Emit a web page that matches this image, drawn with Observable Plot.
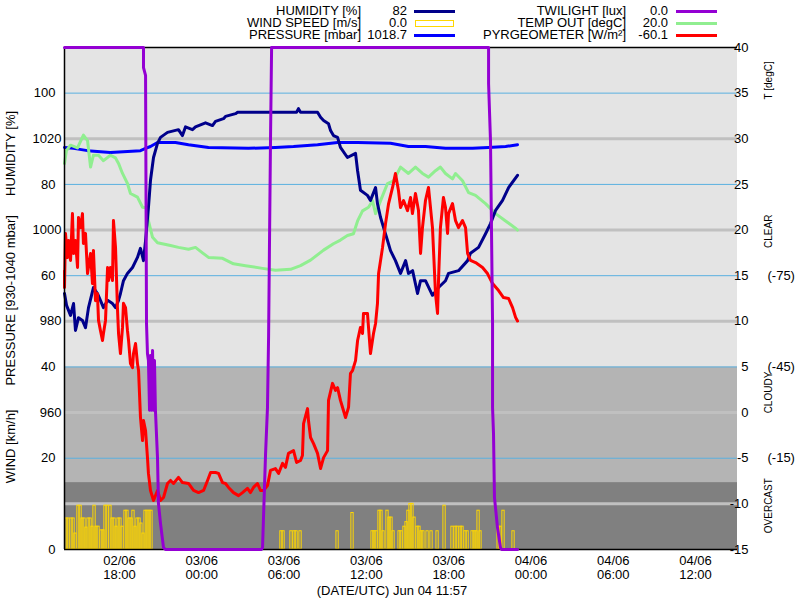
<!DOCTYPE html>
<html><head><meta charset="utf-8">
<script src="https://cdn.jsdelivr.net/npm/d3@7"></script>
<script src="https://cdn.jsdelivr.net/npm/@observablehq/plot@0.6"></script>
<style>
body{margin:0;background:#fff;font-family:'Liberation Sans',Arial,sans-serif;}
#legend{position:relative;width:800px;height:45px;font-size:13px;color:#000;}
#legend span{position:absolute;line-height:12px;white-space:nowrap;}
#legend div{position:absolute;box-sizing:border-box;}
</style></head><body>
<div id="legend"></div>
<div id="chart"></div>
<script>
// ---- time: hours after 02/06 00:00 UTC ----
const xStart = 13.99, xEnd = 63.06;
const xTicks = [18, 24, 30, 36, 42, 48, 54, 60];

// ---- series: [hour, value] ----
const humidity = [[13.99,56.1],[14.14,53.5],[14.43,51.3],[14.65,53.9],[14.79,48.0],[15.01,50.8],[15.30,50.2],[15.52,48.6],[15.74,53.0],[16.10,57.4],[16.39,56.1],[16.61,54.6],[16.83,53.0],[17.13,54.6],[17.49,53.9],[17.71,53.0],[17.93,54.6],[18.07,56.1],[18.29,58.9],[18.58,60.5],[18.95,61.8],[19.31,64.0],[19.53,66.0],[19.75,63.3],[19.90,67.7],[20.11,74.9],[20.26,80.9],[20.48,85.9],[20.77,89.0],[20.99,90.3],[21.50,91.4],[22.30,92.0],[22.59,90.7],[22.81,92.6],[23.32,92.0],[23.54,92.6],[24.27,93.5],[24.78,92.9],[25.00,93.8],[25.58,94.4],[25.73,94.9],[26.46,95.5],[26.61,95.8],[30.47,95.8],[30.91,95.8],[31.05,96.6],[31.20,95.8],[32.44,95.8],[32.66,94.7],[32.88,94.0],[33.24,93.3],[33.39,91.8],[33.60,90.7],[33.90,90.3],[34.11,88.1],[34.62,85.9],[35.21,86.8],[35.36,83.0],[35.57,78.7],[36.08,77.6],[36.30,76.5],[36.67,79.3],[36.81,75.8],[37.03,72.8],[37.25,70.6],[37.54,67.7],[37.76,65.5],[38.12,63.3],[38.49,60.5],[38.86,63.3],[39.07,60.5],[39.37,61.1],[39.73,56.1],[39.95,58.9],[40.31,58.9],[40.82,55.7],[41.26,57.4],[41.77,58.9],[41.99,60.5],[42.72,61.1],[43.38,63.3],[43.59,64.9],[44.18,66.2],[44.69,69.2],[45.05,71.4],[45.42,74.3],[45.93,76.5],[46.37,79.3],[47.02,82.0]];

const pressure = [[13.99,1018.1],[14.65,1017.9],[15.67,1017.4],[17.34,1017.0],[19.53,1017.4],[19.90,1017.9],[20.26,1018.3],[20.77,1019.2],[22.08,1019.2],[23.03,1018.7],[24.49,1018.1],[27.40,1017.9],[29.37,1018.1],[30.69,1018.3],[32.44,1018.7],[33.90,1019.2],[35.36,1019.2],[37.76,1019.0],[39.07,1018.3],[40.31,1018.3],[41.77,1017.9],[43.74,1017.9],[44.91,1018.1],[46.15,1018.3],[47.02,1018.7]];

const tempOut = [[13.99,27.3],[14.13,28.7],[14.43,29.3],[14.94,29.0],[15.37,30.4],[15.67,29.8],[15.89,26.9],[16.10,28.2],[16.47,28.2],[16.83,27.6],[17.34,28.2],[17.71,27.9],[17.93,27.3],[18.22,26.2],[18.58,25.1],[18.80,24.0],[19.31,23.6],[19.68,22.5],[20.04,22.4],[20.11,21.0],[20.41,19.2],[20.77,18.6],[21.72,18.3],[22.30,18.1],[23.03,17.9],[23.54,18.1],[24.05,17.5],[24.49,17.0],[25.51,16.9],[26.31,16.3],[27.19,16.1],[28.43,15.8],[29.37,15.6],[30.47,15.7],[31.20,16.1],[31.93,16.7],[32.88,17.8],[33.60,18.5],[34.11,18.9],[34.62,19.4],[35.06,19.6],[35.36,21.0],[35.72,22.1],[36.16,22.5],[36.45,23.2],[36.67,21.8],[37.03,23.2],[37.54,25.1],[37.98,25.4],[38.49,26.9],[39.07,26.2],[39.58,26.9],[40.09,26.2],[40.53,25.8],[41.04,26.5],[41.40,26.9],[41.77,26.2],[42.28,25.6],[42.50,26.2],[43.01,25.4],[43.45,24.1],[43.96,23.8],[44.69,22.9],[45.42,21.8],[46.15,21.0],[46.87,20.2],[47.02,20.0]];

const pyrgeometer = [[13.99,-76.7],[13.99,-71.1],[14.06,-88.9],[14.21,-81.0],[14.28,-86.6],[14.43,-80.0],[14.57,-95.4],[14.65,-82.3],[14.79,-86.6],[14.94,-77.7],[15.01,-94.1],[15.16,-90.8],[15.30,-95.4],[15.37,-85.6],[15.52,-88.9],[15.67,-75.7],[15.89,-82.3],[16.03,-72.4],[16.10,-83.3],[16.25,-66.8],[16.39,-69.1],[16.47,-60.3],[16.61,-57.0],[16.76,-53.7],[16.83,-56.0],[16.98,-60.3],[17.13,-77.7],[17.20,-73.4],[17.34,-77.7],[17.49,-73.4],[17.56,-93.1],[17.71,-84.3],[17.85,-64.5],[17.93,-56.0],[18.07,-49.4],[18.22,-58.0],[18.29,-65.9],[18.44,-64.5],[18.58,-57.0],[18.66,-53.7],[18.80,-46.1],[18.95,-44.8],[19.02,-49.4],[19.17,-52.7],[19.31,-46.1],[19.39,-43.8],[19.53,-28.4],[19.68,-20.8],[19.75,-27.4],[19.90,-24.1],[20.04,-15.2],[20.11,-10.0],[20.26,-4.4],[20.48,-1.1],[20.77,-4.4],[20.99,-1.1],[21.21,-2.1],[21.50,-6.7],[21.72,-7.7],[21.94,-6.7],[22.30,-8.7],[22.59,-7.0],[23.03,-6.7],[23.40,-4.4],[23.76,-3.7],[24.13,-4.4],[24.42,-7.7],[24.64,-10.3],[25.00,-10.3],[25.22,-10.0],[25.51,-7.0],[25.73,-6.7],[25.95,-5.4],[26.31,-3.7],[26.68,-2.7],[26.97,-3.7],[27.33,-5.1],[27.55,-3.7],[27.77,-5.4],[28.06,-6.7],[28.28,-4.4],[28.50,-4.4],[28.79,-6.0],[29.01,-11.0],[29.37,-11.6],[29.60,-10.0],[29.89,-13.3],[30.10,-12.0],[30.32,-16.6],[30.69,-17.5],[30.91,-13.6],[31.20,-14.3],[31.34,-15.9],[31.42,-26.4],[31.71,-31.3],[31.78,-27.4],[31.93,-21.8],[32.15,-19.8],[32.44,-16.6],[32.66,-11.6],[32.88,-15.2],[33.17,-17.5],[33.24,-34.0],[33.53,-39.6],[33.75,-37.3],[33.90,-38.2],[34.11,-34.0],[34.33,-30.7],[34.48,-28.4],[34.70,-31.7],[34.84,-42.9],[34.99,-43.8],[35.21,-47.1],[35.36,-53.7],[35.57,-58.0],[35.72,-56.0],[35.79,-62.6],[36.08,-62.6],[36.30,-49.4],[36.52,-56.0],[36.67,-59.3],[36.81,-65.9],[36.89,-75.7],[37.18,-84.3],[37.40,-92.2],[37.62,-98.7],[37.91,-104.0],[38.12,-108.6],[38.34,-103.0],[38.49,-97.4],[38.71,-99.7],[39.00,-96.4],[39.22,-100.7],[39.36,-95.4],[39.58,-102.0],[39.80,-96.4],[39.95,-82.3],[40.09,-90.8],[40.31,-99.7],[40.53,-104.0],[40.82,-90.8],[41.04,-69.1],[41.19,-62.6],[41.26,-73.4],[41.40,-90.8],[41.62,-100.7],[41.77,-97.4],[41.92,-88.9],[41.99,-95.4],[42.28,-98.7],[42.50,-93.1],[42.72,-90.8],[43.01,-93.1],[43.23,-90.8],[43.38,-82.3],[43.59,-80.0],[43.96,-79.3],[44.47,-77.7],[44.83,-75.7],[45.20,-72.4],[45.64,-70.1],[46.00,-67.8],[46.37,-67.5],[46.66,-64.5],[46.88,-61.3],[47.02,-60.1]];

const twilight = [[13.99,1100],[19.75,1100],[19.75,1056],[19.90,1039],[19.97,495],[20.04,429],[20.11,414],[20.19,305],[20.26,425],[20.33,305],[20.41,436],[20.48,305],[20.55,414],[20.62,305],[20.77,202],[20.84,101],[20.99,57],[21.21,4],[21.35,0],[28.35,0],[28.43,4],[28.50,70],[28.65,210],[28.79,311],[28.87,465],[29.01,896],[29.09,1100],[44.91,1100],[44.91,1021],[45.05,896],[45.20,495],[45.20,311],[45.27,254],[45.34,114],[45.56,48],[45.78,4],[45.86,0],[47.02,0]];

const wind = [[14.14,6.8],[14.28,6.8],[14.50,6.8],[14.65,6.8],[14.79,3.5],[15.01,9.6],[15.16,9.6],[15.30,6.8],[15.45,6.8],[15.59,4.8],[15.74,6.8],[15.89,6.8],[16.03,5.0],[16.18,9.6],[16.32,5.0],[16.47,5.0],[16.69,4.2],[16.83,4.2],[16.98,9.6],[17.13,9.6],[17.34,9.6],[17.49,6.8],[17.64,6.8],[17.78,5.0],[17.93,6.8],[18.07,6.8],[18.22,5.0],[18.44,8.5],[18.58,8.5],[18.73,6.8],[18.88,6.8],[19.02,8.5],[19.17,5.0],[19.31,6.8],[19.46,6.8],[19.60,5.7],[19.75,3.5],[19.90,8.5],[20.04,8.5],[20.19,8.5],[20.33,8.5],[29.81,4.0],[29.96,4.0],[30.54,4.0],[30.76,4.0],[30.91,4.0],[31.20,4.0],[33.90,4.0],[34.99,8.0],[36.45,4.0],[36.59,4.0],[36.74,4.0],[36.96,8.5],[37.10,8.5],[37.25,4.0],[37.54,8.5],[37.69,7.0],[37.83,7.0],[37.98,4.0],[38.42,4.0],[38.56,4.0],[38.78,5.0],[38.93,6.0],[39.07,8.5],[39.22,10.0],[39.36,10.0],[39.51,7.0],[39.73,5.0],[39.87,5.0],[40.02,4.0],[40.16,4.0],[40.46,4.0],[40.75,4.0],[41.19,4.0],[41.70,9.6],[42.28,5.0],[42.50,5.0],[42.65,5.0],[42.87,5.0],[43.01,5.0],[43.23,4.0],[43.38,4.0],[43.74,4.0],[43.89,4.0],[44.03,4.0],[44.18,8.5],[44.32,4.0],[45.64,5.0],[45.78,5.0],[46.00,8.5],[46.73,4.0]];

// ---- axis ticks / labels ----
const humidityTicks = [0, 20, 40, 60, 80, 100];
const pressureTicks = [960, 980, 1000, 1020];
const pressureGrid = [940, 960, 980, 1000, 1020];
const humidityGrid = [20, 40, 60, 80, 100];
const tempTicks = [-15, -10, -5, 0, 5, 10, 15, 20, 25, 30, 35, 40];
const pyrTicks = [-75, -45, -15];
const skyLimits = [-45, -7];           // W/m2 between CLEAR / CLOUDY / OVERCAST
const legendLabels = ["HUMIDITY [%]", "WIND SPEED [m/s]", "PRESSURE [mbar]", "TWILIGHT [lux]", "TEMP OUT [degC]", "PYRGEOMETER [W/m²]"];
const legendValues = ["82", "0.0", "1018.7", "0.0", "20.0", "-60.1"];
const caption = "(DATE/UTC) Jun 04 11:57";

// ---- styles ----
const C = {hum: "#00008b", wind: "#ffd700", pres: "#0000ff", twi: "#9400d3", temp: "#90ee90", pyr: "#ff0000"};
const legendColors = [C.hum, C.wind, C.pres, C.twi, C.temp, C.pyr];

// ---- scale conversions to the common vertical (humidity %) scale ----
const base = Date.UTC(2024, 5, 2);
const T = h => new Date(base + h * 3600e3);
const presU = v => v - 930;
const tempU = v => (v + 15) * 2;
const pyrU = v => 60 - (v + 75) * 2 / 3;
const pyrInv = u => -75 + (60 - u) * 1.5;
const twiU = v => v / 10;

const series = (data, f, color) => Plot.line(data, {x: d => T(d[0]), y: d => f(d[1]), stroke: color, strokeWidth: 3});
const vlabel = (text, anchor, y, dx, size) => Plot.text([text], {frameAnchor: anchor, y, dx, rotate: -90, fontSize: size, textAnchor: "middle", lineAnchor: "middle"});

const chart = Plot.plot({
  width: 800, height: 555,
  marginTop: 2, marginBottom: 51, marginLeft: 64, marginRight: 63,
  style: {fontFamily: "'Liberation Sans', Arial, sans-serif", fontSize: "13px", overflow: "visible", background: "transparent"},
  x: {type: "utc", domain: [T(xStart), T(xEnd)]},
  y: {domain: [0, 110]},
  marks: [
    Plot.rect([0], {y1: pyrU(skyLimits[0]), y2: 110, fill: "#e4e4e4"}),
    Plot.rect([0], {y1: pyrU(skyLimits[1]), y2: pyrU(skyLimits[0]), fill: "#b4b4b4"}),
    Plot.rect([0], {y1: 0, y2: pyrU(skyLimits[1]), fill: "#808080"}),
    Plot.ruleY(pressureGrid.map(presU), {stroke: "#c0c0c0", strokeWidth: 3}),
    Plot.ruleY(humidityGrid, {stroke: "#5ab0e0", strokeWidth: 1}),
    Plot.rect(wind, {x1: d => T(d[0] - 1/12), x2: d => T(d[0] + 1/12), y1: 0, y2: d => d[1], stroke: C.wind, strokeWidth: 1, fill: "none"}),
    series(pressure, presU, C.pres),
    series(tempOut, tempU, C.temp),
    series(humidity, v => v, C.hum),
    series(pyrgeometer, pyrU, C.pyr),
    Plot.ruleY([0, 110], {stroke: "#000", strokeWidth: 1.5}),
    Plot.ruleX([T(xStart)], {stroke: "#000", strokeWidth: 1.5}),
    series(twilight, twiU, C.twi),
    Plot.axisY(humidityTicks, {anchor: "left", tickSize: 0, tickPadding: 9, tickFormat: d => String(d), label: null}),
    Plot.axisY(pressureTicks.map(presU), {anchor: "left", tickSize: 0, tickPadding: 3, tickFormat: d => String(d + 930), label: null}),
    Plot.axisY(tempTicks.map(tempU), {anchor: "right", tickSize: 0, tickPadding: 11, textAnchor: "end", tickFormat: d => String(d / 2 - 15), label: null}),
    Plot.axisY(pyrTicks.map(pyrU), {anchor: "right", tickSize: 0, tickPadding: 30, tickFormat: d => `(${Math.round(pyrInv(d))})`, label: null}),
    Plot.axisX(xTicks.map(T), {tickSize: 0, tickPadding: 5, lineHeight: 1.1, tickFormat: d3.utcFormat("%d/%m\n%H:%M"), label: null}),
    vlabel("HUMIDITY [%]", "left", 86.8, -54, 13),
    vlabel("PRESSURE [930-1040 mbar]", "left", presU(984.6), -54, 13),
    vlabel("WIND [km/h]", "left", 22.6, -54, 13),
    vlabel("T [degC]", "right", tempU(36.4), 31, 10),
    vlabel("CLEAR", "right", pyrU(-89.6), 31, 10),
    vlabel("CLOUDY", "right", pyrU(-36.6), 31, 10),
    vlabel("OVERCAST", "right", pyrU(0.6), 31, 10),
    Plot.text([caption], {frameAnchor: "bottom", dx: -9, dy: 41, fontSize: 13, lineAnchor: "middle"})
  ]
});
document.getElementById("chart").appendChild(chart);

// ---- legend ----
const leg = document.getElementById("legend");
const cols = [{label: 361, value: 407, sw: 414}, {label: 626, value: 668, sw: 676}];
legendLabels.forEach((lab, i) => {
  const c = cols[Math.floor(i / 3)], row = i % 3;
  const top = 4.5 + row * 12;
  const s1 = document.createElement("span");
  s1.textContent = lab; s1.style.right = (800 - c.label) + "px"; s1.style.top = top + "px";
  const s2 = document.createElement("span");
  s2.textContent = legendValues[i]; s2.style.right = (800 - c.value) + "px"; s2.style.top = top + "px";
  const sw = document.createElement("div");
  const cy = 11 + row * 12;
  if (i === 1) {
    sw.style.left = (c.sw + 1) + "px"; sw.style.width = "39px"; sw.style.top = (cy - 3) + "px"; sw.style.height = "7px";
    sw.style.border = "1.5px solid " + legendColors[i];
  } else {
    sw.style.left = c.sw + "px"; sw.style.width = "41px"; sw.style.top = (cy - 1.5) + "px"; sw.style.height = "3px";
    sw.style.background = legendColors[i];
  }
  leg.appendChild(s1); leg.appendChild(s2); leg.appendChild(sw);
});
</script></body></html>
